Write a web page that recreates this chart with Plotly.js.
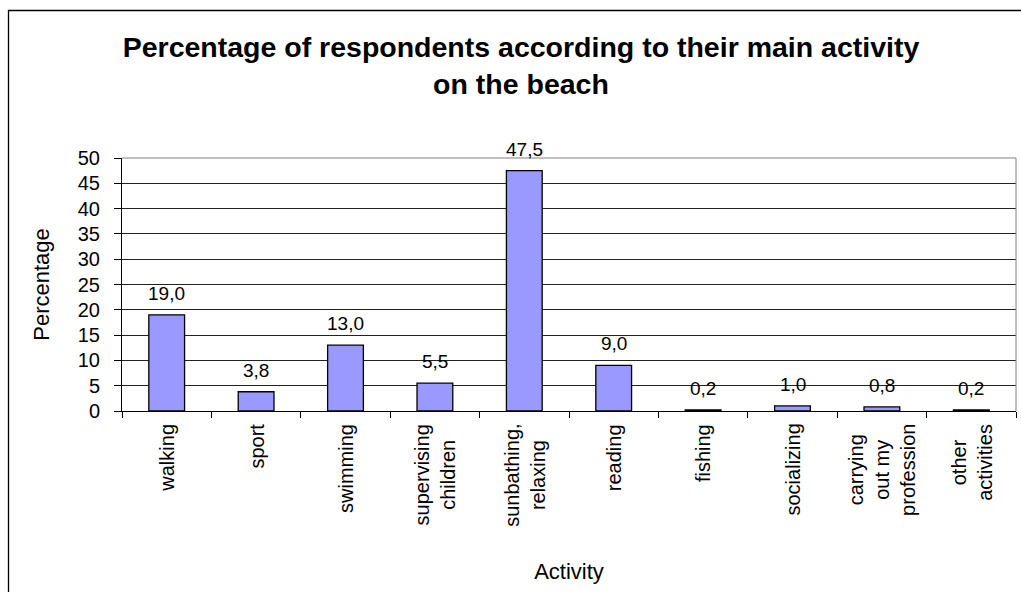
<!DOCTYPE html>
<html>
<head>
<meta charset="utf-8">
<script src="https://cdn.plot.ly/plotly-3.0.1.min.js"></script>
<style>
  html, body { margin: 0; padding: 0; background: #fff; }
  #chart { width: 1021px; height: 592px; }
</style>
</head>
<body>
<div id="chart"></div>
<script>
// Main beach activity of respondents (%)
const activities = [
  'walking', 'sport', 'swimming', 'supervising<br>children', 'sunbathing,<br>relaxing',
  'reading', 'fishing', 'socializing', 'carrying<br>out my<br>profession', 'other<br>activities'
];
const percentages = [19.0, 3.8, 13.0, 5.5, 47.5, 9.0, 0.2, 1.0, 0.8, 0.2];
const yTicks = [0, 5, 10, 15, 20, 25, 30, 35, 40, 45, 50];

const FONT = 'Liberation Sans, Arial, sans-serif';
const W = 1021, H = 592;
const plotLeft = 122, plotRight = 1016, plotTop = 158, plotBottom = 411;
const pw = plotRight - plotLeft, ph = plotBottom - plotTop;
const px = v => (v - plotLeft) / pw;        // pixel -> paper x
const py = v => (plotBottom - v) / ph;      // pixel -> paper y

const fmt = v => v.toFixed(1).replace('.', ',');

const trace = {
  type: 'bar',
  x: activities,
  y: percentages,
  marker: { color: '#9999FF', line: { color: '#000000', width: 1.3 } },
  hoverinfo: 'x+y'
};

// value labels above each bar
const valueLabels = activities.map((a, i) => ({
  x: a, y: percentages[i], xref: 'x', yref: 'y',
  text: fmt(percentages[i]),
  showarrow: false, yanchor: 'bottom', yshift: 9,
  font: { family: FONT, size: 19, color: '#000' }
}));

// rotated category labels, lines centred on each other
const categoryLabels = activities.map(a => ({
  x: a, y: 0, xref: 'x', yref: 'y',
  text: a, textangle: -90, align: 'center',
  showarrow: false, yanchor: 'top', yshift: -11,
  font: { family: FONT, size: 20, color: '#000' }
}));

const layout = {
  width: W, height: H,
  margin: { l: plotLeft, r: W - plotRight, t: plotTop, b: H - plotBottom, pad: 0 },
  paper_bgcolor: '#ffffff',
  plot_bgcolor: '#ffffff',
  showlegend: false,
  bargap: 0.6,
  title: {
    text: 'Percentage of respondents according to their main activity<br>on the beach',
    font: { family: FONT, size: 28.5, weight: 'bold', color: '#000' },
    x: 521 / W, xanchor: 'center', xref: 'container',
    y: 1 - 57 / H, yanchor: 'top', yref: 'container'
  },
  xaxis: {
    type: 'category',
    showticklabels: false,
    ticks: 'outside', tickson: 'boundaries', ticklen: 6, tickcolor: '#000', tickwidth: 1,
    showline: true, linecolor: '#000', linewidth: 1,
    showgrid: false, zeroline: false, fixedrange: true,
    title: { text: 'Activity', font: { family: FONT, size: 22, color: '#000' }, standoff: 152 }
  },
  yaxis: {
    range: [0, 50],
    tickvals: yTicks,
    ticktext: yTicks.map(String),
    ticks: 'outside', ticklen: 7, tickcolor: '#000', tickwidth: 1,
    ticklabelstandoff: 10,
    tickfont: { family: FONT, size: 20, color: '#000' },
    showline: true, linecolor: '#000', linewidth: 1,
    showgrid: true, gridcolor: '#222', gridwidth: 1,
    zeroline: false, fixedrange: true,
    title: { text: 'Percentage', font: { family: FONT, size: 22, color: '#000' }, standoff: 22 }
  },
  annotations: valueLabels.concat(categoryLabels),
  shapes: [
    // plot-area frame (top and right)
    { type: 'line', xref: 'paper', yref: 'paper', x0: 0, x1: 1, y0: 1, y1: 1,
      line: { color: '#808080', width: 1 }, layer: 'above' },
    { type: 'line', xref: 'paper', yref: 'paper', x0: 1, x1: 1, y0: 0, y1: 1,
      line: { color: '#808080', width: 1 }, layer: 'above' },
    // chart-area border (runs past the right and bottom edges)
    { type: 'rect', xref: 'paper', yref: 'paper', x0: px(8.5), x1: px(W + 10), y0: py(10.5), y1: py(H + 10),
      line: { color: '#000', width: 1.3 }, fillcolor: 'rgba(0,0,0,0)', layer: 'above' }
  ]
};

Plotly.newPlot('chart', [trace], layout, { displayModeBar: false });
</script>
</body>
</html>
